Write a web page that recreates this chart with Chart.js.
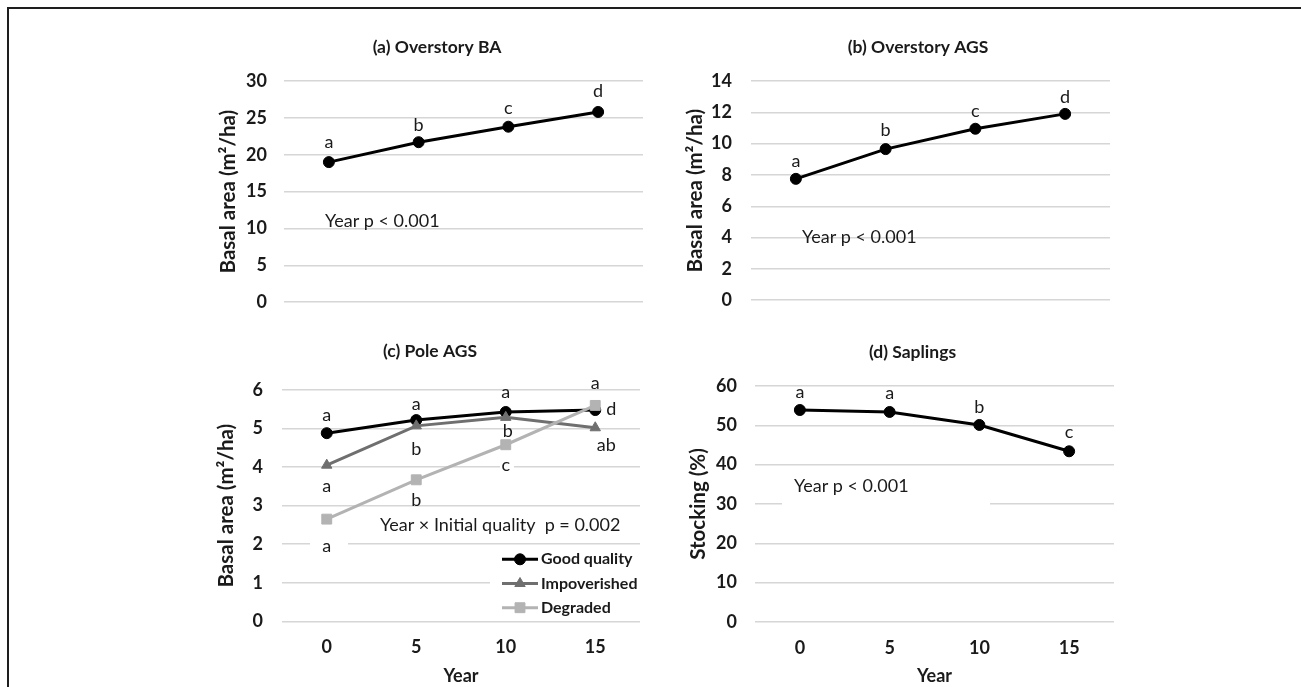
<!DOCTYPE html>
<html>
<head>
<meta charset="utf-8">
<title>Overstory, pole and sapling trends</title>
<script src="https://cdn.jsdelivr.net/npm/chart.js@4.4.4/dist/chart.umd.min.js"></script>
<style>
  html, body { margin: 0; padding: 0; background: #fff; }
  #fig { position: relative; width: 1301px; height: 687px; overflow: hidden; background: #fff; }
  #frame { position: absolute; left: 7px; top: 7px; right: -10px; bottom: -10px;
           border-top: 2px solid #1e1e1e; border-left: 2px solid #1e1e1e; }
  .panel { position: absolute; }
</style>
</head>
<body>
<div id="fig">
  <div id="frame"></div>
  <div class="panel" style="left:214px; top:30px; width:446px; height:300px;"><canvas id="chartA"></canvas></div>
  <div class="panel" style="left:681px; top:30px; width:474px; height:300px;"><canvas id="chartB"></canvas></div>
  <div class="panel" style="left:212px; top:330px; width:436px; height:357px;"><canvas id="chartC"></canvas></div>
  <div class="panel" style="left:684px; top:330px; width:457px; height:357px;"><canvas id="chartD"></canvas></div>
</div>
<script>
// ---- data ----
const years = ['0', '5', '10', '15'];

const overstoryBA = [19.0, 21.7, 23.8, 25.8];
const overstoryBALetters = ['a', 'b', 'c', 'd'];
const baTicks = [0, 5, 10, 15, 20, 25, 30];

const overstoryAGS = [7.75, 9.65, 10.95, 11.9];
const overstoryAGSLetters = ['a', 'b', 'c', 'd'];
const agsTicks = [0, 2, 4, 6, 8, 10, 12, 14];

const poleGood = [4.88, 5.22, 5.43, 5.48];
const poleImpoverished = [4.05, 5.07, 5.29, 5.02];
const poleDegraded = [2.65, 3.67, 4.58, 5.6];
const poleGoodLetters = ['a', 'a', 'a', 'a'];
const poleImpoverishedLetters = ['a', 'b', 'b', 'ab'];
const poleDegradedLetters = ['a', 'b', 'c', 'd'];
const poleTicks = [0, 1, 2, 3, 4, 5, 6];

const saplingStocking = [53.9, 53.4, 50.1, 43.4];
const saplingLetters = ['a', 'a', 'b', 'c'];
const stockingTicks = [0, 10, 20, 30, 40, 50, 60];

// ---- styles ----
const TEXT = '#1a1a1a';
const GRID = '#d6d6d6';
const FONT = 'Lato';
Chart.defaults.font.family = FONT;
Chart.defaults.color = TEXT;

// letters, notes, masks and legend drawn over each panel
function notesPlugin(cfg) {
  return {
    id: 'notes',
    beforeDatasetsDraw(chart) {
      const ctx = chart.ctx, a = chart.chartArea;
      ctx.save();
      ctx.fillStyle = '#fff';
      (cfg.masks || []).forEach(function (m) {
        ctx.fillRect(a.left + m[0], a.top + m[1], m[2], m[3]);
      });
      ctx.restore();
    },
    afterDatasetsDraw(chart) {
      const ctx = chart.ctx, a = chart.chartArea;
      ctx.save();
      ctx.fillStyle = TEXT;
      ctx.textBaseline = 'middle';
      ctx.textAlign = 'center';
      ctx.font = '18px ' + FONT;
      (cfg.letters || []).forEach(function (g) {
        const pts = chart.getDatasetMeta(g.dataset).data;
        g.text.forEach(function (t, i) {
          const off = g.offsets[i];
          ctx.fillText(t, pts[i].x + off[0], pts[i].y + off[1]);
        });
      });
      ctx.textAlign = 'left';
      (cfg.notes || []).forEach(function (n) {
        ctx.fillText(n.text, a.left + n.x, a.top + n.y);
      });

      const lg = cfg.legend;
      if (lg) {
        chart.data.datasets.forEach(function (ds, i) {
          const y = a.top + lg.y + i * lg.gap;
          const x0 = a.left + lg.x;
          ctx.strokeStyle = ds.borderColor;
          ctx.lineWidth = ds.borderWidth;
          ctx.beginPath();
          ctx.moveTo(x0, y);
          ctx.lineTo(x0 + lg.len, y);
          ctx.stroke();
          ctx.fillStyle = ds.pointBackgroundColor;
          ctx.strokeStyle = ds.pointBorderColor;
          ctx.lineWidth = 1;
          Chart.helpers.drawPoint(ctx, { pointStyle: ds.pointStyle, radius: ds.pointRadius, rotation: 0, borderWidth: 1 }, x0 + lg.len / 2, y);
          ctx.fillStyle = TEXT;
          ctx.font = 'bold 16px ' + FONT;
          ctx.fillText(ds.label, x0 + lg.len + 3, y);
        });
      }
      ctx.restore();
    }
  };
}

function yAxis(ticks, label, width, pad) {
  return {
    type: 'linear',
    position: 'left',
    min: ticks[0],
    max: ticks[ticks.length - 1],
    ticks: { stepSize: ticks[1] - ticks[0], padding: pad, color: TEXT, font: { size: 18, weight: 'bold' } },
    grid: { color: GRID, lineWidth: 1.5, drawTicks: false },
    border: { display: false },
    title: { display: true, text: label, color: TEXT, font: { size: 20.5, weight: 'bold' }, padding: { top: 2, bottom: 2 } },
    afterFit: function (s) { s.width = width; }
  };
}

function xAxis(show, height, pad) {
  return {
    type: 'category',
    offset: true,
    display: show,
    grid: { display: false, drawTicks: false },
    border: { display: false },
    ticks: { padding: pad, color: TEXT, font: { size: 18, weight: 'bold' } },
    title: { display: true, text: 'Year', color: TEXT, font: { size: 18, weight: 'bold' }, padding: { top: 0, bottom: 0 } },
    afterFit: function (s) { s.height = height; }
  };
}

// empty right-hand spacer so the panel title centres like the original
function spacer(width) {
  return {
    type: 'linear',
    position: 'right',
    display: true,
    grid: { display: false },
    border: { display: false },
    ticks: { display: false },
    afterFit: function (s) { s.width = width; }
  };
}

function series(label, values, color, style, radius) {
  return {
    label: label,
    data: values,
    borderColor: color,
    borderWidth: 3,
    pointStyle: style,
    pointRadius: radius,
    pointBackgroundColor: color,
    pointBorderColor: color,
    pointBorderWidth: 1,
    tension: 0
  };
}

function makePanel(id, opts) {
  return new Chart(document.getElementById(id), {
    type: 'line',
    data: { labels: years, datasets: opts.datasets },
    options: {
      responsive: true,
      maintainAspectRatio: false,
      animation: false,
      layout: { padding: opts.layoutPad },
      plugins: {
        legend: { display: false },
        tooltip: { enabled: false },
        title: {
          display: true,
          text: opts.title,
          color: TEXT,
          font: { size: 17.5, weight: 'bold' },
          padding: opts.titlePad
        }
      },
      scales: {
        x: xAxis(opts.showX, opts.xHeight || 0, opts.xPad || 0),
        y: yAxis(opts.ticks, opts.yLabel, opts.yWidth, opts.yPad),
        pad: spacer(opts.spacer)
      }
    },
    plugins: [notesPlugin(opts.notes)]
  });
}

// (a) Overstory BA
makePanel('chartA', {
  title: '(a) Overstory BA',
  titlePad: { top: 6.5, bottom: 23.5 },
  layoutPad: { left: 0, right: 0, top: 0, bottom: 14 },
  datasets: [series('Overstory BA', overstoryBA, '#000000', 'circle', 5.5)],
  ticks: baTicks, yLabel: 'Basal area (m²/ha)', yWidth: 70, yPad: 17,
  showX: false, spacer: 17,
  notes: {
    letters: [{ dataset: 0, text: overstoryBALetters, offsets: [[0, -20], [0, -17], [0, -19], [0, -21]] }],
    notes: [{ text: 'Year p < 0.001', x: 41, y: 140 }]
  }
});

// (b) Overstory AGS
makePanel('chartB', {
  title: '(b) Overstory AGS',
  titlePad: { top: 6.5, bottom: 23.5 },
  layoutPad: { left: 0, right: 0, top: 0, bottom: 14 },
  datasets: [series('Overstory AGS', overstoryAGS, '#000000', 'circle', 5.5)],
  ticks: agsTicks, yLabel: 'Basal area (m²/ha)', yWidth: 70, yPad: 19,
  showX: false, spacer: 45,
  notes: {
    letters: [{ dataset: 0, text: overstoryAGSLetters, offsets: [[0, -18], [0, -19], [0, -18], [0, -17]] }],
    notes: [{ text: 'Year p < 0.001', x: 51, y: 156 }]
  }
});

// (c) Pole AGS
const good = series('Good quality', poleGood, '#000000', 'circle', 5.5);
good.order = 3;
const impoverished = series('Impoverished', poleImpoverished, '#6f6f6f', 'triangle', 6);
impoverished.order = 2;
const degraded = series('Degraded', poleDegraded, '#b3b3b3', 'rect', 7);
degraded.order = 1;

makePanel('chartC', {
  title: '(c) Pole AGS',
  titlePad: { top: 11.2, bottom: 27.8 },
  layoutPad: { left: 0, right: 0, top: 0, bottom: 0 },
  datasets: [good, impoverished, degraded],
  ticks: poleTicks, yLabel: 'Basal area (m²/ha)', yWidth: 70, yPad: 19,
  showX: true, xHeight: 65.7, xPad: 14.6, spacer: 8,
  notes: {
    masks: [[28, 147, 38, 20], [218, 66, 14, 18], [208, 158, 160, 71]],
    letters: [
      { dataset: 0, text: poleGoodLetters, offsets: [[0, -18], [0, -16], [0, -20], [0, -27]] },
      { dataset: 1, text: poleImpoverishedLetters, offsets: [[0, 21], [0, 23], [2, 14], [11, 17]] },
      { dataset: 2, text: poleDegradedLetters, offsets: [[0, 27], [0, 20], [0, 20], [16, 4]] }
    ],
    notes: [{ text: 'Year × Initial quality  p = 0.002', x: 98, y: 135 }],
    legend: { x: 220, y: 169.3, gap: 24.2, len: 36 }
  }
});

// (d) Saplings
makePanel('chartD', {
  title: '(d) Saplings',
  titlePad: { top: 12.2, bottom: 22.8 },
  layoutPad: { left: 0, right: 0, top: 0, bottom: 0 },
  datasets: [series('Saplings', saplingStocking, '#000000', 'circle', 5.5)],
  ticks: stockingTicks, yLabel: 'Stocking (%)', yWidth: 71, yPad: 18,
  showX: true, xHeight: 65, xPad: 15.2, spacer: 27,
  notes: {
    masks: [[27, 84, 208, 37]],
    letters: [{ dataset: 0, text: saplingLetters, offsets: [[0, -18], [0, -19], [0, -18], [0, -19]] }],
    notes: [{ text: 'Year p < 0.001', x: 39, y: 99.7 }]
  }
});
</script>
</body>
</html>
